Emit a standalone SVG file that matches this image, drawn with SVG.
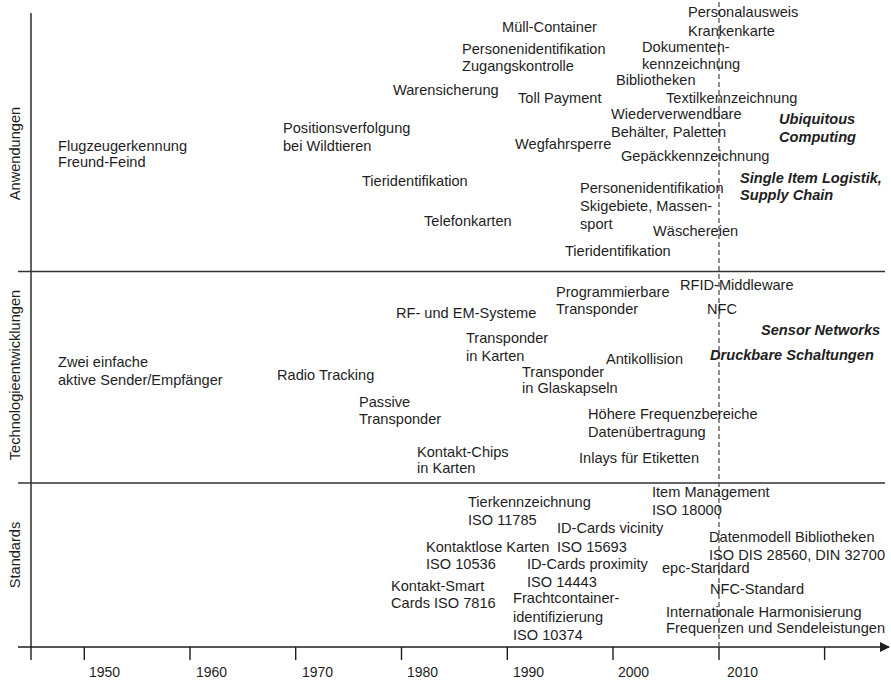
<svg xmlns="http://www.w3.org/2000/svg" width="891" height="682" viewBox="0 0 891 682">
<style>
text{font-family:"Liberation Sans",Arial,Helvetica,sans-serif;font-size:14.6px;fill:#1e1e1e}
.bi{font-weight:bold;font-style:italic}
.ax{stroke:#1e1e1e;stroke-width:1.4;fill:none}
.sep{stroke:#333;stroke-width:1.3;fill:none}
.dash{stroke:#555;stroke-width:1.3;stroke-dasharray:5 3;fill:none}
.yr{font-size:14px}
</style>
<defs>
<marker id="arr" markerWidth="10" markerHeight="10" refX="9" refY="5" orient="auto" markerUnits="userSpaceOnUse">
<path d="M0,0 L10,5 L0,10 Z" fill="#1e1e1e"/>
</marker>
</defs>
<rect width="891" height="682" fill="#fff"/>
<g id="axes">
<line class="ax" x1="31" y1="13" x2="31" y2="660"/>
<line class="sep" x1="18" y1="271.5" x2="885" y2="271.5"/>
<line class="sep" x1="18" y1="483" x2="885" y2="483"/>
<line class="ax" x1="18" y1="647" x2="889" y2="647" marker-end="url(#arr)"/>
<path class="ax" d="M84.3,647v13M190,647v13M295.7,647v13M401.5,647v13M507.3,647v13M613,647v13M719,647v13M824.6,647v13"/>
<line class="dash" x1="719" y1="2" x2="719" y2="647"/>
</g>
<g id="years">
<text class="yr" x="89" y="677">1950</text>
<text class="yr" x="196" y="677">1960</text>
<text class="yr" x="302" y="677">1970</text>
<text class="yr" x="407" y="677">1980</text>
<text class="yr" x="513" y="677">1990</text>
<text class="yr" x="618" y="677">2000</text>
<text class="yr" x="727" y="677">2010</text>
</g>
<g id="lane-labels">
<text transform="translate(20,153.5) rotate(-90)" text-anchor="middle">Anwendungen</text>
<text transform="translate(20,375) rotate(-90)" text-anchor="middle">Technologieentwicklungen</text>
<text transform="translate(20,555) rotate(-90)" text-anchor="middle">Standards</text>
</g>
<g id="anwendungen">
<g id="a-flug"><text x="58" y="151">Flugzeugerkennung</text><text x="58" y="167">Freund-Feind</text></g>
<g id="a-pos"><text x="283" y="133">Positionsverfolgung</text><text x="283" y="151">bei Wildtieren</text></g>
<g id="a-tier1"><text x="362" y="186">Tieridentifikation</text></g>
<g id="a-waren"><text x="393" y="95">Warensicherung</text></g>
<g id="a-telefon"><text x="424" y="226">Telefonkarten</text></g>
<g id="a-muell"><text x="502" y="32">Müll-Container</text></g>
<g id="a-person1"><text x="462" y="54">Personenidentifikation</text><text x="462" y="71">Zugangskontrolle</text></g>
<g id="a-toll"><text x="518" y="103">Toll Payment</text></g>
<g id="a-weg"><text x="515" y="149">Wegfahrsperre</text></g>
<g id="a-person2"><text x="580" y="193">Personenidentifikation</text><text x="580" y="211">Skigebiete, Massen-</text><text x="580" y="229">sport</text></g>
<g id="a-tier2"><text x="565" y="256">Tieridentifikation</text></g>
<g id="a-waesche"><text x="653" y="236">Wäschereien</text></g>
<g id="a-gepaeck"><text x="621" y="161">Gepäckkennzeichnung</text></g>
<g id="a-behaelter"><text x="611" y="119">Wiederverwendbare</text><text x="611" y="137">Behälter, Paletten</text></g>
<g id="a-biblio"><text x="616" y="85">Bibliotheken</text></g>
<g id="a-doku"><text x="642" y="52">Dokumenten-</text><text x="642" y="69">kennzeichnung</text></g>
<g id="a-ausweis"><text x="688" y="17">Personalausweis</text><text x="688" y="36">Krankenkarte</text></g>
<g id="a-textil"><text x="666" y="103">Textilkennzeichnung</text></g>
<g id="a-ubi"><text class="bi" x="779" y="124">Ubiquitous</text><text class="bi" x="779" y="142">Computing</text></g>
<g id="a-single"><text class="bi" x="740" y="183">Single Item Logistik,</text><text class="bi" x="740" y="200">Supply Chain</text></g>
</g>
<g id="technologie">
<g id="t-zwei"><text x="58" y="367">Zwei einfache</text><text x="58" y="385">aktive Sender/Empfänger</text></g>
<g id="t-radio"><text x="277" y="380">Radio Tracking</text></g>
<g id="t-passive"><text x="359" y="407">Passive</text><text x="359" y="424">Transponder</text></g>
<g id="t-kontakt"><text x="417" y="457">Kontakt-Chips</text><text x="417" y="473">in Karten</text></g>
<g id="t-rf"><text x="396" y="318">RF- und EM-Systeme</text></g>
<g id="t-karten"><text x="466" y="343">Transponder</text><text x="466" y="361">in Karten</text></g>
<g id="t-glas"><text x="522" y="377">Transponder</text><text x="522" y="393">in Glaskapseln</text></g>
<g id="t-prog"><text x="556" y="297">Programmierbare</text><text x="556" y="314">Transponder</text></g>
<g id="t-anti"><text x="606" y="364">Antikollision</text></g>
<g id="t-freq"><text x="588" y="419">Höhere Frequenzbereiche</text><text x="588" y="437">Datenübertragung</text></g>
<g id="t-inlays"><text x="579" y="463">Inlays für Etiketten</text></g>
<g id="t-rfid"><text x="680" y="290">RFID-Middleware</text></g>
<g id="t-nfc"><text x="707" y="314">NFC</text></g>
<g id="t-sensor"><text class="bi" x="761" y="335">Sensor Networks</text></g>
<g id="t-druck"><text class="bi" x="710" y="360">Druckbare Schaltungen</text></g>
</g>
<g id="standards">
<g id="s-smart"><text x="391" y="591">Kontakt-Smart</text><text x="391" y="608">Cards ISO 7816</text></g>
<g id="s-kontaktlos"><text x="426" y="552">Kontaktlose Karten</text><text x="426" y="569">ISO 10536</text></g>
<g id="s-tier"><text x="468" y="507">Tierkennzeichnung</text><text x="468" y="525">ISO 11785</text></g>
<g id="s-vicinity"><text x="557" y="533">ID-Cards vicinity</text><text x="557" y="552">ISO 15693</text></g>
<g id="s-proximity"><text x="527" y="569">ID-Cards proximity</text><text x="527" y="587">ISO 14443</text></g>
<g id="s-fracht"><text x="513" y="603">Frachtcontainer-</text><text x="513" y="622">identifizierung</text><text x="513" y="640">ISO 10374</text></g>
<g id="s-item"><text x="652" y="497">Item Management</text><text x="652" y="515">ISO 18000</text></g>
<g id="s-daten"><text x="709" y="542">Datenmodell Bibliotheken</text><text x="709" y="560">ISO DIS 28560, DIN 32700</text></g>
<g id="s-epc"><text x="662" y="573">epc-Standard</text></g>
<g id="s-nfc"><text x="710" y="594">NFC-Standard</text></g>
<g id="s-harm"><text x="666" y="617">Internationale Harmonisierung</text><text x="666" y="633">Frequenzen und Sendeleistungen</text></g>
</g>
</svg>
